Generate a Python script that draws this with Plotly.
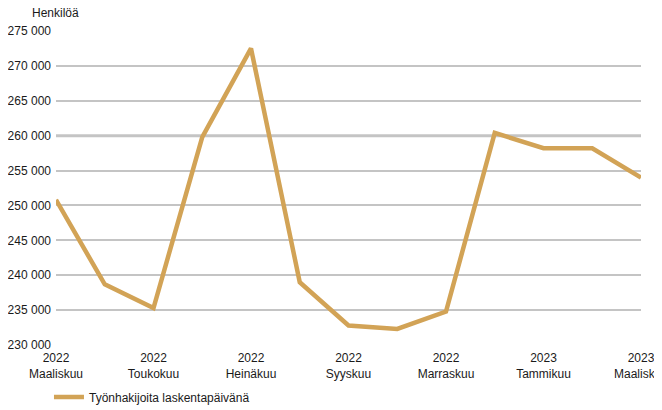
import plotly.graph_objects as go

months = ["2022<br>Maaliskuu", "2022<br>Huhtikuu", "2022<br>Toukokuu", "2022<br>Kesäkuu",
          "2022<br>Heinäkuu", "2022<br>Elokuu", "2022<br>Syyskuu", "2022<br>Lokakuu",
          "2022<br>Marraskuu", "2022<br>Joulukuu", "2023<br>Tammikuu", "2023<br>Helmikuu",
          "2023<br>Maaliskuu"]
values = [250800, 238700, 235300, 259800, 272500, 239000, 232800, 232300,
          234800, 260400, 258200, 258200, 254000]
tick_labels = months[::2]
series_name = "Työnhakijoita laskentapäivänä"
y_title = "Henkilöä"
highlight_level = 260000

font_family = "Liberation Sans, Arial, sans-serif"
text_color = "#1a1a1a"
grid_color = "#c4c4c4"
line_color = "#D2A356"

fig = go.Figure()
fig.add_trace(go.Scatter(
    x=months, y=values, mode="lines", name=series_name,
    line=dict(color=line_color, width=4.5),
))

fig.add_shape(type="line", xref="paper", x0=0, x1=1, yref="y",
              y0=highlight_level, y1=highlight_level,
              line=dict(color=grid_color, width=3), layer="below")

fig.update_layout(
    width=662, height=410,
    margin=dict(l=48, r=29, t=23, b=73),
    paper_bgcolor="white", plot_bgcolor="white",
    font=dict(family=font_family, size=12, color=text_color),
    separators=", ",
    showlegend=True,
    legend=dict(orientation="h", x=-0.012, xanchor="left", xref="paper",
                y=0.051, yref="container", yanchor="middle",
                font=dict(size=12), itemwidth=30),
    annotations=[dict(text=y_title, xref="paper", yref="paper", x=-0.044, y=1.0,
                      xanchor="left", yanchor="bottom", yshift=9, showarrow=False,
                      font=dict(size=12, color=text_color))],
)
fig.update_xaxes(
    type="category", range=[0, len(months) - 1], tickmode="array",
    tickvals=tick_labels, ticktext=tick_labels, showgrid=False, showline=False,
    zeroline=False, ticks="", automargin=False, tickangle=0, ticklabelstandoff=4,
)
fig.update_yaxes(
    range=[230000, 275000], dtick=5000, tickformat=",d", showgrid=True,
    gridcolor=grid_color, gridwidth=1.5, zeroline=False, showline=False,
    ticks="", automargin=False, ticklabelstandoff=4,
)

fig.write_html("out.html")
